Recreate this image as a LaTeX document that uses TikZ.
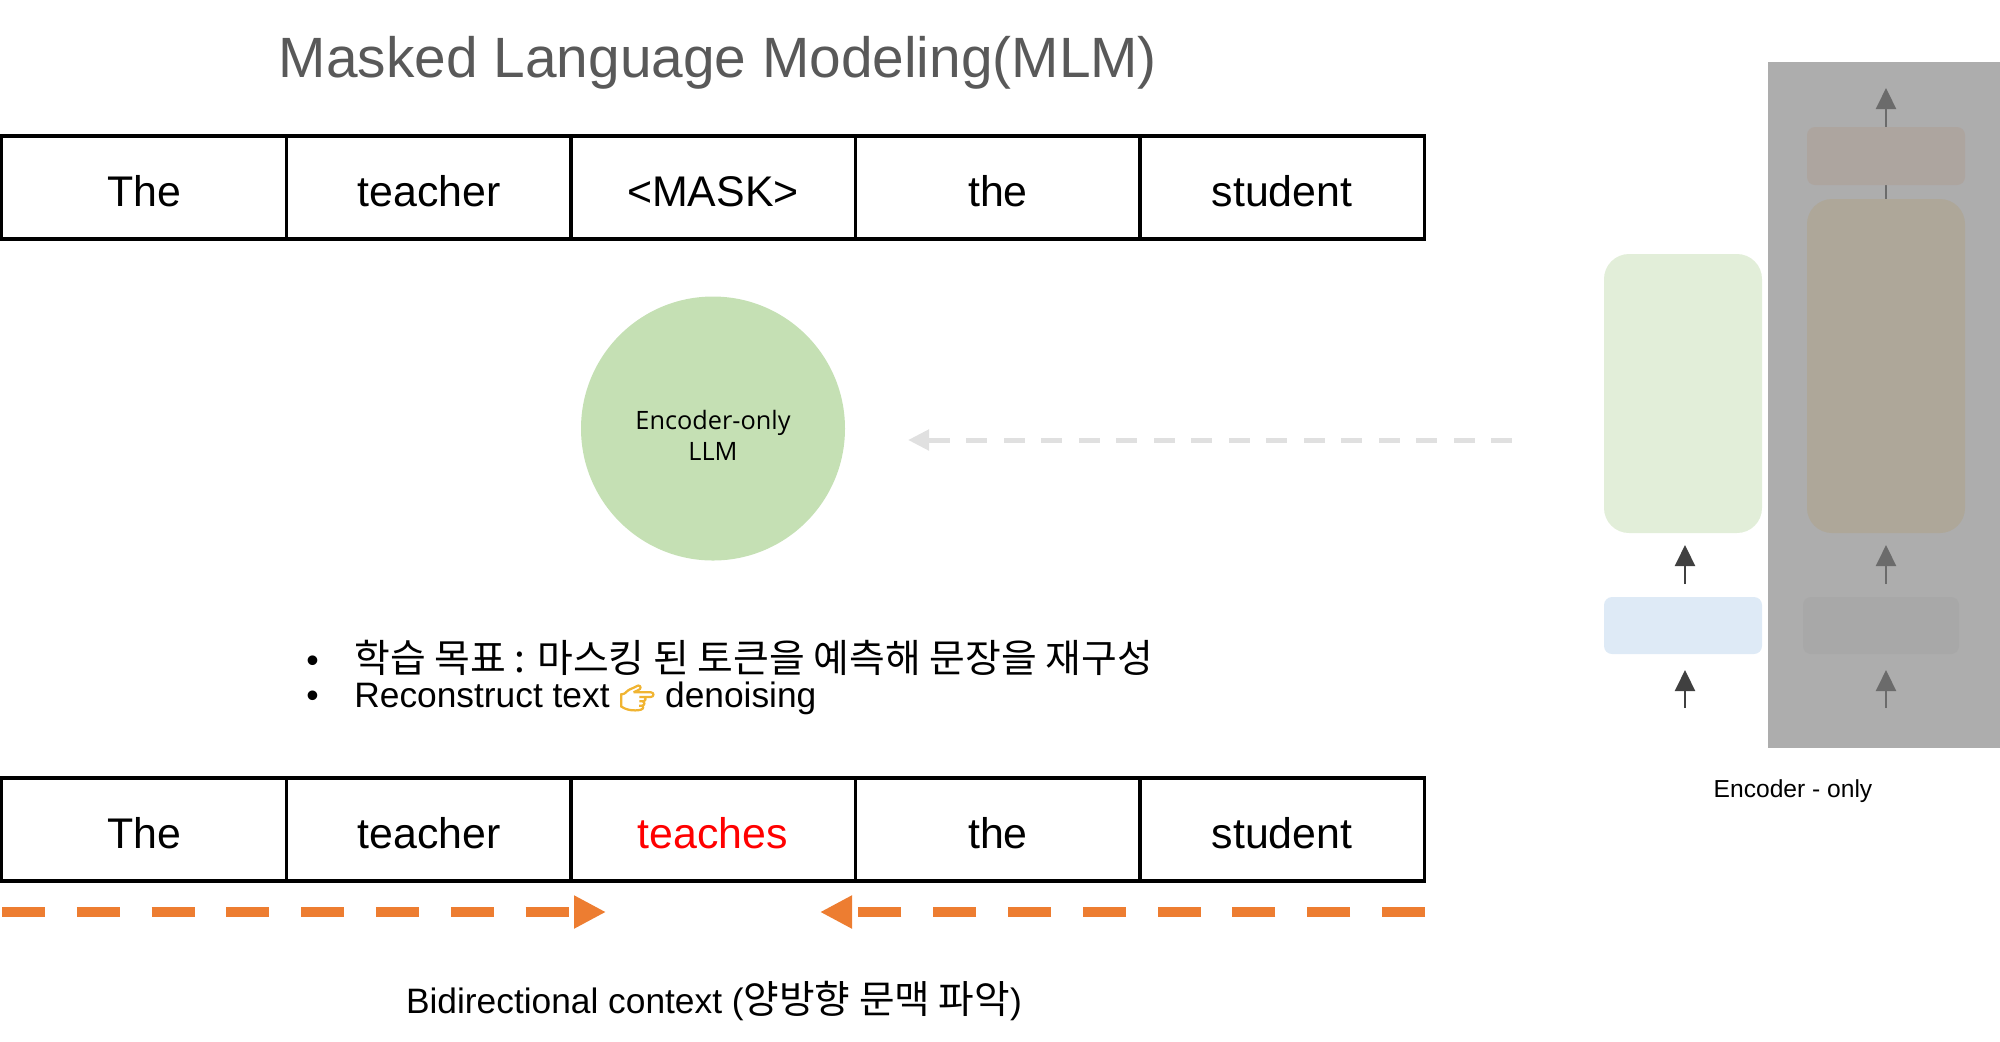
\documentclass[tikz,border=0pt]{standalone}
\usepackage{fontspec}
\setmainfont{Liberation Sans}
\newfontfamily\cjk[Scale=1.095]{Noto Sans CJK KR}
\newfontfamily\emj[FakeBold=4,Scale=0.8]{Noto Emoji}
\newfontfamily\circfont{Open Sans}
\usetikzlibrary{arrows.meta,positioning}
\definecolor{titlegray}{RGB}{89,89,89}
\definecolor{llmgreen}{RGB}{197,224,180}
\definecolor{ctxorange}{RGB}{237,125,49}
\definecolor{fadearrow}{RGB}{224,224,224}
\definecolor{panelgray}{RGB}{173,173,173}
\definecolor{encgreen}{RGB}{226,238,217}
\definecolor{embblue}{RGB}{222,234,246}
\definecolor{decbrown}{RGB}{174,167,153}
\definecolor{outbrown}{RGB}{173,165,159}
\definecolor{embgray}{RGB}{168,168,168}
\definecolor{handyellow}{RGB}{240,180,50}
\newcommand{\bul}{\makebox[0.48cm][l]{\textbullet}}
\tikzset{
  tok/.style={rectangle, draw=black, line width=0.033cm, minimum width=2.846cm,
              minimum height=1.03cm, inner sep=0pt, outer sep=0pt, align=center,
              text height=0.37cm, text depth=0pt,
              font=\fontsize{12.2}{14}\selectfont},
  blk/.style={rectangle, inner sep=0pt, outer sep=0pt, minimum width=1.58cm},
  blkbig/.style={blk, rounded corners=0.25cm},
  blksmall/.style={blk, rounded corners=0.08cm},
  ctx/.style={-{Triangle[length=3.2mm,width=3.1mm]}, line width=0.1cm, draw=ctxorange,
              dash pattern=on 0.43cm off 0.318cm},
  fade/.style={-{Triangle[length=2.1mm,width=2mm]}, line width=0.05cm, draw=fadearrow,
               dash pattern=on 0.21cm off 0.165cm},
  ar/.style={-{Triangle[length=2.1mm,width=2mm]}, line width=0.022cm},
  arl/.style={ar, draw=black!75, fill=black!75},
  arg/.style={ar, draw=black!58, fill=black!58},
}
\begin{document}
\begin{tikzpicture}[x=1cm,y=1cm]
\useasboundingbox (0,0) rectangle (20,-10.41);

% ===================== title =====================
\node[text=titlegray, font=\fontsize{16.17}{19}\selectfont] (TITLE) at (7.18,-0.63)
  {Masked Language Modeling(MLM)};

% ===================== masked row =====================
\node[tok] (M1) at (1.44,-1.875) {The};
\node[tok] (M2) at (4.29,-1.875) {teacher};
\node[tok] (M3) at (7.13,-1.875) {<MASK>};
\node[tok] (M4) at (9.98,-1.875) {the};
\node[tok] (M5) at (12.82,-1.875) {student};

% ===================== LLM =====================
\node[circle, fill=llmgreen, minimum size=2.64cm, inner sep=0pt, align=center,
      font=\circfont\fontsize{7.2}{9}\selectfont] (LLM) at (7.13,-4.285)
  {\rule{0pt}{0.33cm}Encoder-only\\LLM};
\coordinate (FS) at (15.12,-4.40);
\coordinate (FE) at (9.08,-4.40);
\draw[fade] (FS) -- (FE);

% ===================== goals =====================
\node[anchor=west, font=\fontsize{10.1}{11.4}\selectfont] (GA) at (2.94,-6.575)
  {\bul{\cjk 학습 목표 : 마스킹 된 토큰을 예측해 문장을 재구성}};
\node[anchor=west, font=\fontsize{10.05}{11.4}\selectfont] (GB) at (2.94,-6.985)
  {\bul Reconstruct text {\emj\color{handyellow}👉} denoising};

% ===================== filled row =====================
\node[tok] (F1) at (1.44,-8.295) {The};
\node[tok] (F2) at (4.29,-8.295) {teacher};
\node[tok, text=red] (F3) at (7.13,-8.295) {teaches};
\node[tok] (F4) at (9.98,-8.295) {the};
\node[tok] (F5) at (12.82,-8.295) {student};

% context arrows
\coordinate (CL) at (0.02,-9.12);
\coordinate (CLE) at (6.06,-9.12);
\coordinate (CR) at (14.25,-9.12);
\coordinate (CRE) at (8.20,-9.12);
\draw[ctx] (CL) -- (CLE);
\draw[ctx] (CR) -- (CRE);
\node[font=\fontsize{10.05}{12}\selectfont] (CTX) at (7.14,-10.015)
  {Bidirectional context ({\cjk 양방향 문맥 파악})};

% ===================== encoder-only stack =====================
\fill[panelgray] (17.68,-0.62) rectangle (20,-7.48);

\coordinate (A1) at (18.86,-2.02);
\coordinate (A2) at (18.86,-0.88);
\draw[arg] (A1) -- (A2);

\node[blkbig, fill=encgreen, minimum height=2.79cm] (ENC) at (16.83,-3.935) {};
\node[blksmall, fill=embblue, minimum height=0.57cm] (EMB) at (16.83,-6.255) {};
\node[blkbig, fill=decbrown, minimum height=3.34cm] (DEC) at (18.86,-3.66) {};
\node[blksmall, fill=outbrown, minimum height=0.58cm] (OUT) at (18.86,-1.56) {};
\node[blksmall, fill=embgray, minimum height=0.57cm, minimum width=1.56cm] (EG) at (18.81,-6.255) {};

% small arrows
\foreach \x/\n in {16.85/L,18.86/R} {
  \coordinate (S\n a) at (\x,-5.84);
  \coordinate (E\n a) at (\x,-5.45);
  \coordinate (S\n b) at (\x,-7.08);
  \coordinate (E\n b) at (\x,-6.70);
}
\draw[arl] (SLa) -- (ELa);
\draw[arl] (SLb) -- (ELb);
\draw[arg] (SRa) -- (ERa);
\draw[arg] (SRb) -- (ERb);

\node[font=\fontsize{7}{9}\selectfont] (ENCL) at (17.93,-7.91) {Encoder - only};

\end{tikzpicture}
\end{document}
